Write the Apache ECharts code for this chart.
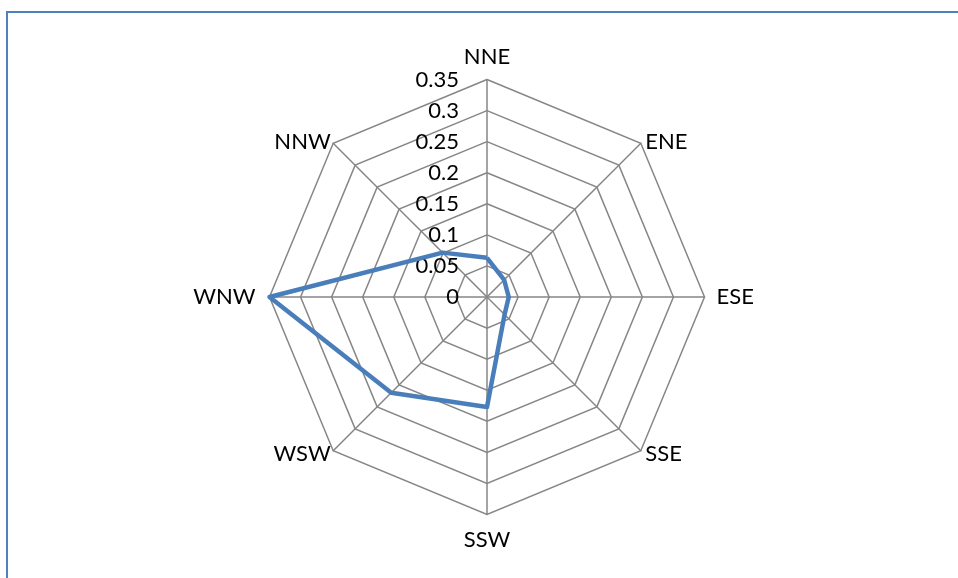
<!DOCTYPE html>
<html lang="en">
  <head>
    <meta charset="utf-8">
    <script src="https://cdn.jsdelivr.net/npm/echarts@6/dist/echarts.min.js"></script>
    <style>
      html, body { margin: 0; padding: 0; background: #fff; }
      #frame { position: absolute; left: 6px; top: 11px; width: 1000px; height: 700px; border: 2px solid #4f81bd; }
      #chart { position: absolute; left: 0; top: 0; width: 958px; height: 578px; }
    </style>
  </head>
  <body>
    <div id="frame"></div>
    <div id="chart"></div>
    <script>
      // directions, clockwise from the top
      const directions = ['NNE', 'ENE', 'ESE', 'SSE', 'SSW', 'WSW', 'WNW', 'NNW'];
      const values = [0.063, 0.039, 0.035, 0.04, 0.177, 0.218, 0.35, 0.101];
      const maxValue = 0.35;
      const tickStep = 0.05;

      // echarts lays indicators out counter-clockwise, so flip the tail
      const order = [0].concat([7, 6, 5, 4, 3, 2, 1]);
      const indicators = order.map(i => ({ name: directions[i], min: 0, max: maxValue }));
      const seriesValues = order.map(i => values[i]);

      // per-label nudges so names sit like the original
      const nameStyle = {
        NNE: 'top', SSW: 'bottom', WNW: 'left', ESE: 'right',
        NNW: 'ul', WSW: 'dl', ENE: 'ur', SSE: 'dr'
      };

      const font = 'Lato, "Open Sans", sans-serif';
      const fs = 22;
      const myChart = echarts.init(document.getElementById('chart'));

      const option = {
        animation: false,
        textStyle: { fontFamily: font },
        grid: { left: 487, top: 79.5, height: 217.5, width: 10 },
        xAxis: { type: 'value', show: false },
        yAxis: {
          type: 'value', min: 0, max: maxValue, interval: tickStep,
          axisLine: { show: false }, axisTick: { show: false }, splitLine: { show: false },
          axisLabel: {
            margin: 28, fontSize: fs, color: '#000', fontFamily: font,
            formatter: v => String(+v.toFixed(2))
          }
        },
        radar: {
          center: [487, 297],
          radius: 217.5,
          startAngle: 90,
          shape: 'polygon',
          splitNumber: 7,
          indicator: indicators,
          nameGap: -5,
          axisName: {
            color: '#000',
            fontSize: fs,
            fontFamily: font,
            formatter: (name) => '{' + nameStyle[name] + '|' + name + '}',
            rich: {
              top: { fontSize: fs, lineHeight: 22, padding: [0, 0, 34, 0] },
              bottom: { fontSize: fs, lineHeight: 22, padding: [38, 0, 0, 0] },
              left: { fontSize: fs, lineHeight: 22, padding: [0, 19, 0, 0] },
              right: { fontSize: fs, lineHeight: 22, padding: [0, 0, 0, 17] },
              ul: { fontSize: fs, lineHeight: 22, padding: [0, 6, 10, 0] },
              dl: { fontSize: fs, lineHeight: 22, padding: [13, 6, 0, 0] },
              ur: { fontSize: fs, lineHeight: 22, padding: [0, 0, 10, 8] },
              dr: { fontSize: fs, lineHeight: 22, padding: [13, 0, 0, 8] }
            }
          },
          splitArea: { show: false },
          splitLine: { lineStyle: { color: '#868686', width: 1.5 } },
          axisLine: { lineStyle: { color: '#868686', width: 1.5 } }
        },
        series: [{
          type: 'radar',
          symbol: 'none',
          lineStyle: { color: '#4a7ebb', width: 4.5, join: 'round' },
          data: [{ value: seriesValues }]
        }]
      };
      myChart.setOption(option);
    </script>
  </body>
</html>
